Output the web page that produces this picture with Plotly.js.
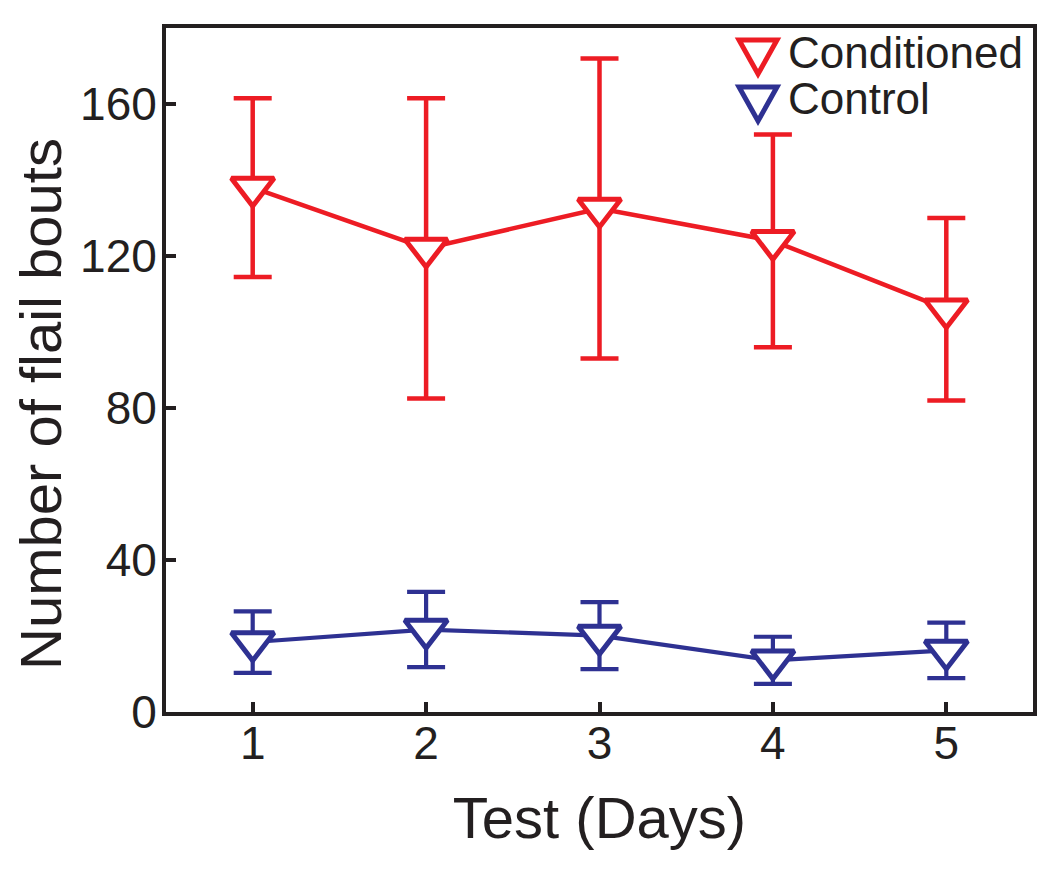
<!DOCTYPE html>
<html><head><meta charset="utf-8">
<script src="https://cdn.plot.ly/plotly-3.0.1.min.js"></script>
<style>body{margin:0;background:#fff}#chart{width:1050px;height:873px}</style>
</head><body><div id="chart"></div>
<script>
const days = [1, 2, 3, 4, 5];
const conditionedMean = [138, 122, 132.5, 124, 106];
const conditionedErr = [23.5, 39.5, 39.5, 28, 24];
const controlMean = [18.4, 21.7, 20.1, 13.6, 16.2];
const controlErr = [8.1, 9.9, 8.8, 6.2, 7.3];
const seriesNames = ['Conditioned', 'Control'];
const yTicks = [0, 40, 80, 120, 160];
const red = '#ED1C24', blue = '#2E3192', ink = '#231F20';

const font = 'Liberation Sans, Arial, sans-serif';
const M = {l: 166, r: 17, t: 28, b: 161};
const W = 1050, H = 873;
const pw = W - M.l - M.r, ph = H - M.t - M.b;
const px = x => (x - M.l) / pw;
const py = y => (H - M.b - y) / ph;

function dataTrace(name, y, err, color, w) {
  return {
    x: days, y: y, name: name, mode: 'lines+markers', showlegend: false,
    line: {color: color, width: w},
    marker: {symbol: 'triangle-down', size: 37, color: '#ffffff', line: {width: 5, color: color}},
    error_y: {type: 'data', array: err, visible: true, color: color, thickness: w, width: 19}
  };
}
const traces = [
  dataTrace(seriesNames[0], conditionedMean, conditionedErr, red, 4.5),
  dataTrace(seriesNames[1], controlMean, controlErr, blue, 4.2)
];
const axisCommon = {
  showline: true, mirror: true, linewidth: 4, linecolor: ink,
  ticks: 'inside', ticklen: 10, tickwidth: 4, tickcolor: ink,
  showgrid: false, zeroline: false,
  tickfont: {family: font, size: 46, color: ink}
};
// legend (drawn as shapes + text to match the large symbols of the original)
const legendColors = [red, blue];
const legendTextY = [52, 98];
const legendTriTop = [40, 87];
const shapes = [];
const annotations = [];
seriesNames.forEach((n, i) => {
  const t = legendTriTop[i], b = t + 34, l = 739, r = 777, c = (l + r) / 2;
  shapes.push({type: 'path', xref: 'paper', yref: 'paper',
    path: `M ${px(l)},${py(t)} L ${px(r)},${py(t)} L ${px(c)},${py(b)} Z`,
    line: {color: legendColors[i], width: 5}, fillcolor: 'rgba(0,0,0,0)'});
  annotations.push({xref: 'paper', yref: 'paper', x: px(786), y: py(legendTextY[i]), xanchor: 'left', yanchor: 'middle',
    text: n, showarrow: false, font: {family: font, size: 44, color: ink}});
});
annotations.push({xref: 'paper', yref: 'paper', x: px(40), y: py(404), xanchor: 'center', yanchor: 'middle',
  text: 'Number of flail bouts', textangle: -90, showarrow: false, font: {family: font, size: 58, color: ink}});
const layout = {
  width: W, height: H,
  margin: M,
  paper_bgcolor: '#fff', plot_bgcolor: '#fff',
  font: {family: font, color: ink},
  showlegend: false,
  xaxis: Object.assign({}, axisCommon, {
    range: [0.5, 5.5], tickvals: days, ticklabelstandoff: -12,
    title: {text: 'Test (Days)', font: {family: font, size: 58, color: ink}, standoff: 30}
  }),
  yaxis: Object.assign({}, axisCommon, {
    range: [0, 180], tickvals: yTicks, ticklabelstandoff: -4
  }),
  shapes: shapes,
  annotations: annotations
};
Plotly.newPlot('chart', traces, layout, {displayModeBar: false, staticPlot: true});
</script></body></html>
